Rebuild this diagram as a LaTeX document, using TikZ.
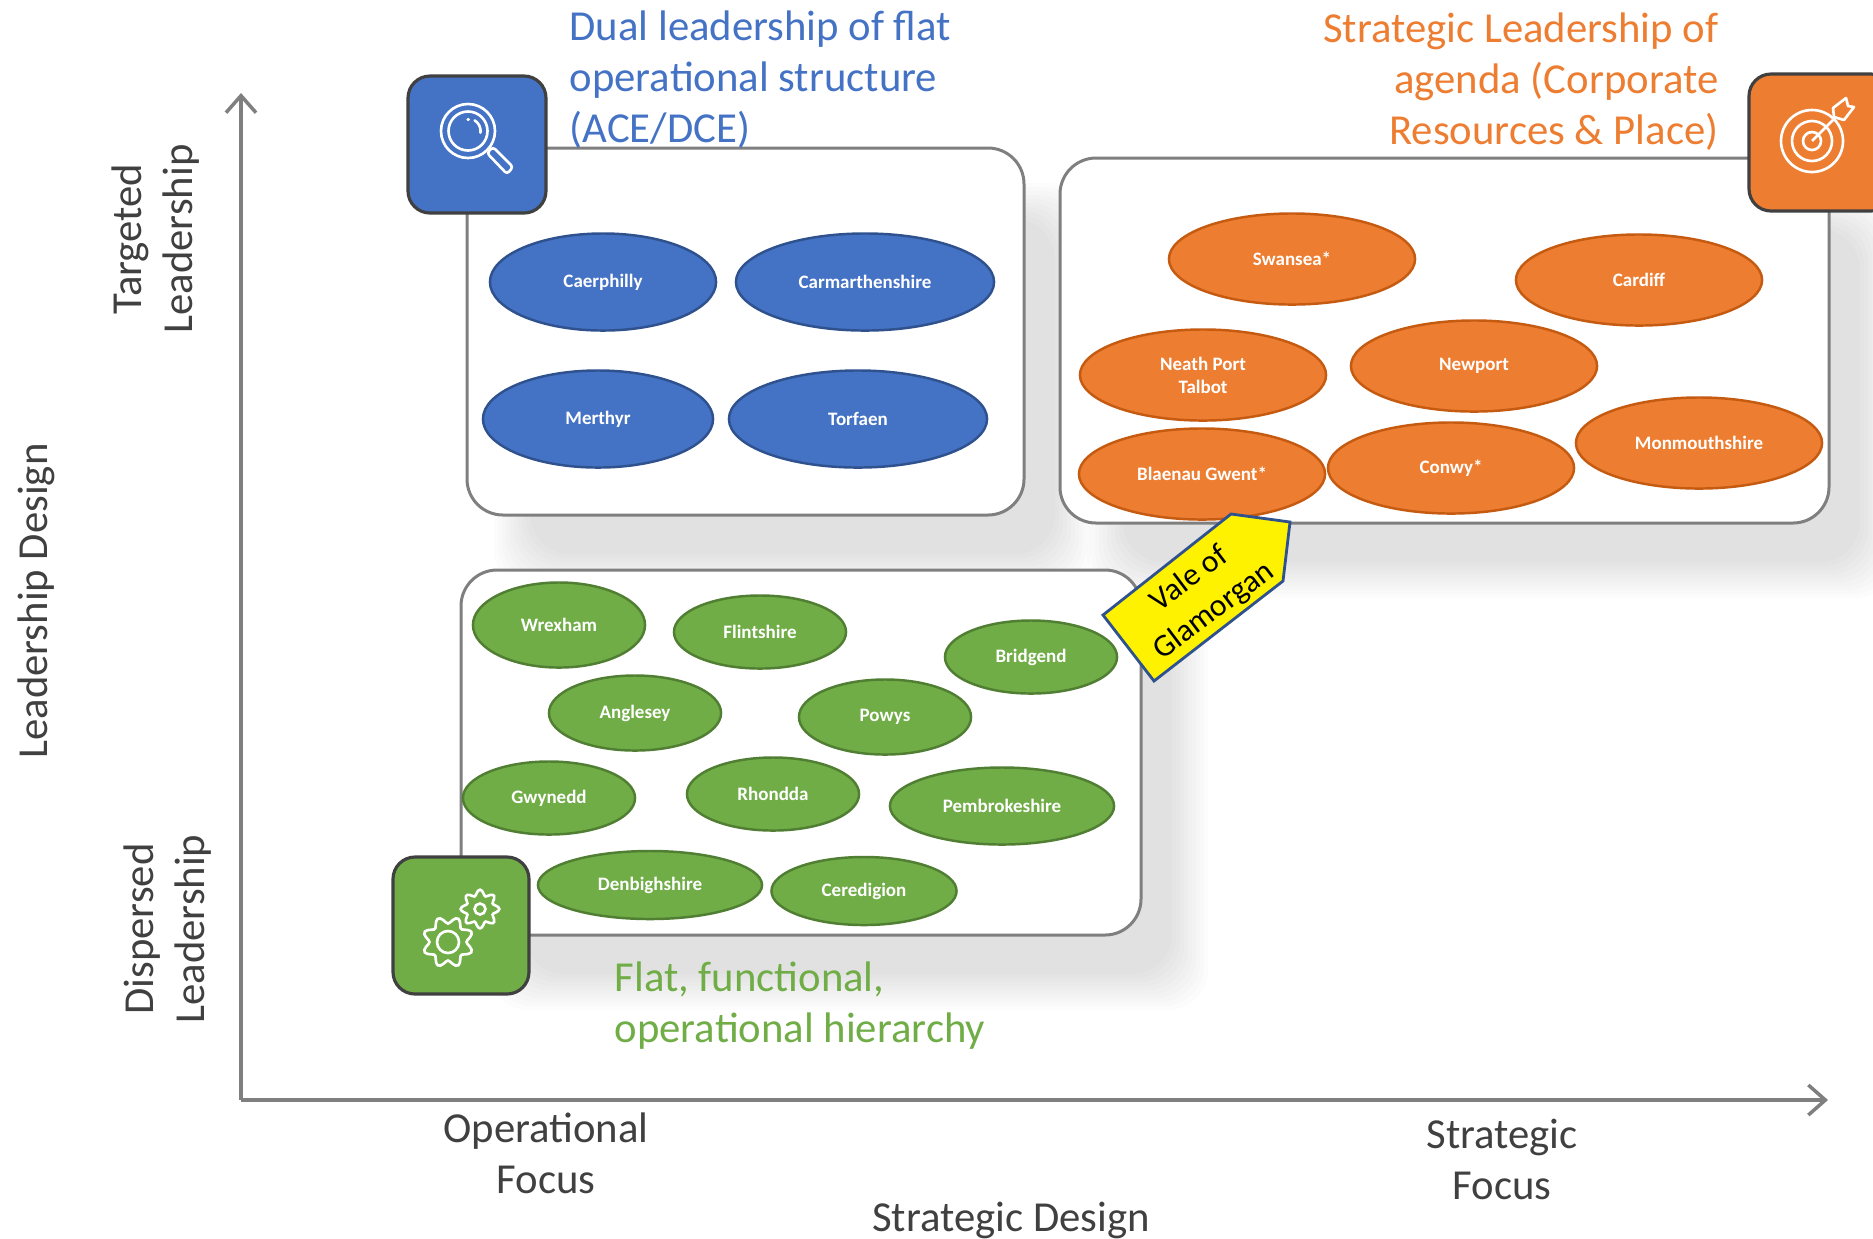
\documentclass[tikz,border=0pt]{standalone}
\usepackage{fontspec}
\setmainfont{Carlito}
\usetikzlibrary{shapes.geometric,arrows.meta}

\definecolor{bluefill}{HTML}{4472C4}
\definecolor{blueline}{HTML}{2F528F}
\definecolor{orangefill}{HTML}{ED7D31}
\definecolor{orangeline}{HTML}{C55A11}
\definecolor{greenfill}{HTML}{70AD47}
\definecolor{greenline}{HTML}{507E32}
\definecolor{axisgray}{HTML}{7F7F7F}
\definecolor{labelgray}{HTML}{404040}

\tikzset{
  oval/.style={ellipse, inner sep=0pt, line width=0.7pt, text=white, align=center,
    font=\fontsize{5.4}{6.5}\selectfont\bfseries},
  blueoval/.style={oval, draw=blueline, fill=bluefill, minimum width=#1, minimum height=0.97cm},
  orangeoval/.style={oval, draw=orangeline, fill=orangefill, minimum width=2.46cm, minimum height=0.91cm},
  greenoval/.style={oval, draw=greenline, fill=greenfill, minimum width=#1, minimum height=0.73cm},
  groupbox/.style={draw=axisgray, fill=white, line width=0.85pt, rounded corners=0.36cm},
  iconbox/.style={draw=labelgray, line width=0.9pt, rounded corners=0.22cm},
  icon/.style={draw=white, line width=0.75pt},
  axisline/.style={draw=axisgray, line width=1pt, -{Straight Barb[length=0.17cm,width=0.3cm]}},
  biglabel/.style={font=\fontsize{12.15}{14.5}\selectfont, inner sep=0pt},
  axislabel/.style={biglabel, text=labelgray, align=center},
}

% soft shadow: box corners, drawn as stacked faint boxes
\newcommand{\softshadow}[4]{
  \foreach \i in {0,...,9}
    \fill [black, opacity=0.012, rounded corners=0.4cm]
      ({#1+47-20+4*\i},{#2+55-20+4*\i}) rectangle ({#3+47+20-4*\i},{#4+55+20-4*\i});
}

\begin{document}
\begin{tikzpicture}[x=0.01cm, y=-0.01cm]
  \clip (0,0) rectangle (1873,1238);

  % shadows
  \softshadow{467}{148}{1024}{515}
  \softshadow{1060}{158}{1829}{523}
  \softshadow{461}{570}{1141}{935}

  % axes
  \coordinate (origin) at (241,1100);
  \coordinate (ytop) at (241,93);
  \coordinate (xend) at (1828,1100);
  \draw [axisline] (origin) -- (ytop);
  \draw [axisline] (origin) -- (xend);

  % group boxes
  \draw [groupbox] (467,148) rectangle (1024,515);
  \draw [groupbox] (1060,158) rectangle (1829,523);
  \draw [groupbox] (461,570) rectangle (1141,935);

  % blue group
  \node [blueoval=2.26cm] (caerphilly) at (603,282) {Caerphilly};
  \node [blueoval=2.58cm] (carmarthenshire) at (865,282) {Carmarthenshire};
  \node [blueoval=2.30cm] (merthyr) at (598,419) {Merthyr};
  \node [blueoval=2.58cm] (torfaen) at (858,419) {Torfaen};

  % orange group
  \node [orangeoval] (swansea) at (1292,259) {Swansea*};
  \node [orangeoval] (cardiff) at (1639,280) {Cardiff};
  \node [orangeoval] (neath) at (1203,375) {Neath Port\\Talbot};
  \node [orangeoval] (newport) at (1474,366) {Newport};
  \node [orangeoval] (blaenau) at (1202,474) {Blaenau Gwent*};
  \node [orangeoval] (conwy) at (1451,468) {Conwy*};
  \node [orangeoval] (monmouthshire) at (1699,443) {Monmouthshire};

  % green group
  \node [greenoval=1.72cm, minimum height=0.85cm] (wrexham) at (559,625) {Wrexham};
  \node [greenoval=1.72cm] (flintshire) at (760,632) {Flintshire};
  \node [greenoval=1.72cm] (bridgend) at (1031,657) {Bridgend};
  \node [greenoval=1.72cm, minimum height=0.75cm] (anglesey) at (635,713) {Anglesey};
  \node [greenoval=1.72cm, minimum height=0.75cm] (powys) at (885,717) {Powys};
  \node [greenoval=1.72cm] (gwynedd) at (549,798) {Gwynedd};
  \node [greenoval=1.72cm] (rhondda) at (773,794) {Rhondda};
  \node [greenoval=2.24cm, minimum height=0.77cm] (pembrokeshire) at (1002,806) {Pembrokeshire};
  \node [greenoval=2.24cm, minimum height=0.68cm] (denbighshire) at (650,885) {Denbighshire};
  \node [greenoval=1.85cm, minimum height=0.68cm] (ceredigion) at (864,891) {Ceredigion};

  % vale of glamorgan tag
  \draw [fill=yellow, draw=blueline, line width=0.8pt]
    (1231,514) -- (1290,522) -- (1283,581) -- (1154,681) -- (1103,615) -- cycle;
  \node [rotate=37, align=center, inner sep=0pt, font=\fontsize{9}{11.4}\selectfont] (vale) at (1202,595) {Vale of\\Glamorgan};

  % icon boxes
  \draw [iconbox, fill=bluefill] (408,76) rectangle (546,213);
  \draw [iconbox, fill=orangefill] (1749,74) rectangle (1893,211);
  \draw [iconbox, fill=greenfill] (393,857) rectangle (529,994);

  % magnifier
  \draw [icon] (468,131) circle (27);
  \draw [icon] (468,131) circle (19.5);
  \draw [icon, line cap=round, shift={(468,131)}] plot [domain=-58:8, samples=12] (\x:12.5);
  \draw [icon, line cap=round, shift={(468,131)}] plot [domain=-92:-86, samples=2] (\x:11.5);
  \draw [icon, rounded corners=0.03cm] (487,153) -- (493,147) -- (513,167) -- (507,174) -- cycle;

  % target
  \draw [icon] (1812,141) circle (31);
  \draw [icon] (1812,141) circle (20);
  \draw [icon] (1812,141) circle (9);
  \draw [icon] (1812,141) -- (1835,118);
  \draw [icon, line join=round] (1833,108) -- (1846,98) -- (1848,106) -- (1854,107) -- (1844,120) -- (1834,117) -- cycle;

  % gears
  \draw [icon] (448,942) circle (11);
  \draw [icon, shift={(448,942)}] plot [smooth cycle, domain=0:354, samples=60] (\x:{22-3.5*cos(8*\x)});
  \draw [icon] (480,909) circle (5.5);
  \draw [icon, shift={(480,909)}] plot [smooth cycle, domain=0:354, samples=60] (\x:{16.5+2.8*cos(8*\x)});

  % coloured headings
  \node [biglabel, text=bluefill, align=left, anchor=north west] (bluetext) at (569,10) {Dual leadership of flat\\operational structure\\(ACE/DCE)};
  \node [biglabel, text=orangefill, align=right, anchor=north east] (orangetext) at (1719,12) {Strategic Leadership of\\agenda (Corporate\\Resources \& Place)};
  \node [biglabel, text=greenfill, align=left, anchor=north west] (greentext) at (614,961) {Flat, functional,\\operational hierarchy};

  % axis labels
  \node [axislabel] (operational) at (546,1153) {Operational\\Focus};
  \node [axislabel] (strategic) at (1502,1159) {Strategic\\Focus};
  \node [axislabel] (strategicdesign) at (1011,1220) {Strategic Design};
  \node [axislabel, rotate=90] (leadershipdesign) at (36,601) {Leadership Design};
  \node [axislabel, rotate=90] (targeted) at (156,239) {Targeted\\Leadership};
  \node [axislabel, rotate=90] (dispersed) at (168,929) {Dispersed\\Leadership};
\end{tikzpicture}
\end{document}
